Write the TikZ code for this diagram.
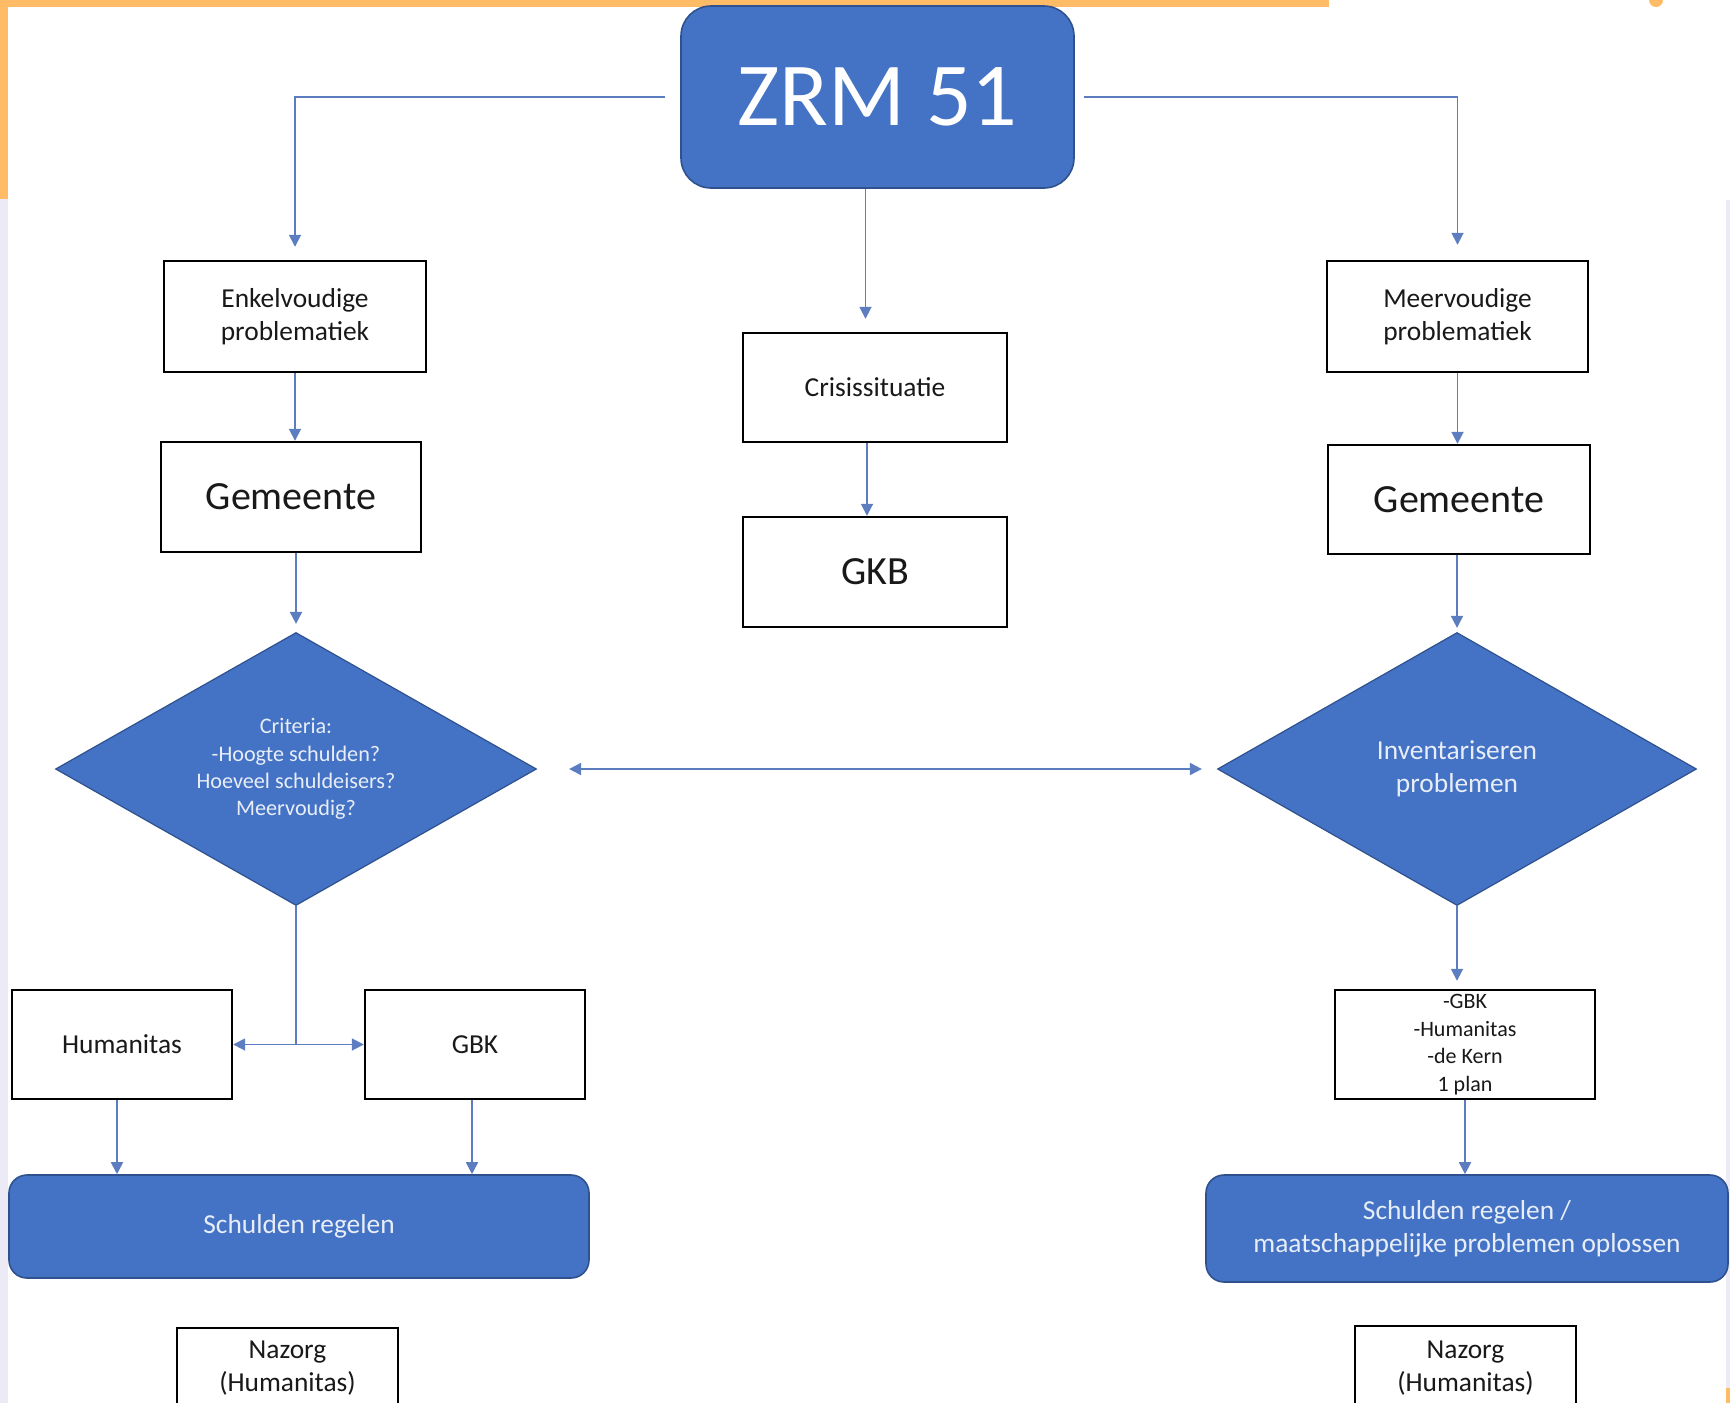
\documentclass[tikz,border=0pt]{standalone}
\usepackage{fontspec}
\setmainfont{Carlito}
\usetikzlibrary{shapes.geometric,arrows.meta}

\definecolor{zblue}{RGB}{68,114,196}
\definecolor{zedge}{RGB}{47,82,143}
\definecolor{zline}{RGB}{92,126,192}
\definecolor{zorange}{RGB}{255,187,102}
\definecolor{zlav}{RGB}{236,235,245}
\definecolor{ztext}{RGB}{232,238,248}

\tikzset{
  zarrow/.tip={Triangle[width=6pt,length=6pt]},
  whitebox/.style={draw=black, line width=1.2pt, fill=white, text=black!90, align=center, inner sep=2pt, font=\fontsize{13.7}{16.5}\selectfont},
  bigbox/.style={whitebox, font=\fontsize{20}{24}\selectfont},
  bluebox/.style={draw=zedge, line width=0.8pt, fill=zblue, text=ztext, align=center, rounded corners=9pt, font=\fontsize{13.7}{16.5}\selectfont},
  choice/.style={diamond, draw=zedge, line width=0.6pt, fill=zblue, text=ztext, align=center, aspect=1.76, inner sep=1pt, minimum width=240.5pt, minimum height=136.5pt, font=\fontsize{13.7}{16.5}\selectfont},
  conn/.style={draw=zline, line width=0.9pt, -zarrow},
}

\begin{document}
\begin{tikzpicture}[x=0.5pt,y=0.5pt,yscale=-1,xscale=1]
\useasboundingbox (0,0) rectangle (1730,1403);
\clip (0,0) rectangle (1730,1403);

%Shape: Border strips
\fill[zlav] (0,199) rectangle (8,1403);
\fill[zlav] (1726,200) rectangle (1730,1403);
\fill[zorange] (0,0) rectangle (1329,7);
\fill[zorange] (0,0) rectangle (8,199);
\fill[zorange] (1656,0) circle (7);
\fill[zorange] (1726,1388) rectangle (1730,1403);

%Shape: Rounded Rect
\node[bluebox, rounded corners=15pt, text=white, minimum width=196.5pt, minimum height=91pt, font=\fontsize{45}{50}\selectfont] (zrm) at (877.5,97) {ZRM 51};

%Shape: Rectangle
\node[whitebox, minimum width=131pt, minimum height=55.5pt] (enkel) at (295,316.5) {Enkelvoudige\\problematiek};
\node[bigbox, minimum width=130pt, minimum height=55pt] (gemL) at (291,497) {Gemeente};
\node[whitebox, minimum width=132pt, minimum height=54.5pt] (crisis) at (875,387.5) {Crisissituatie};
\node[bigbox, minimum width=132pt, minimum height=55pt] (gkb) at (875,572) {GKB};
\node[whitebox, minimum width=130.5pt, minimum height=55.5pt] (meer) at (1457.5,316.5) {Meervoudige\\problematiek};
\node[bigbox, minimum width=131pt, minimum height=54.5pt] (gemR) at (1459,499.5) {Gemeente};

%Shape: Diamond
\node[choice, font=\fontsize{11.1}{13.6}\selectfont] (crit) at (296,769) {Criteria:\\-Hoogte schulden?\\Hoeveel schuldeisers?\\Meervoudig?};
\node[choice, minimum width=239.5pt] (inv) at (1457,769) {Inventariseren\\problemen};

%Shape: Rectangle
\node[whitebox, minimum width=110pt, minimum height=54.5pt] (human) at (122,1044.5) {Humanitas};
\node[whitebox, minimum width=110pt, minimum height=54.5pt] (gbk) at (475,1044.5) {GBK};
\node[whitebox, minimum width=130pt, minimum height=54.5pt, inner sep=0pt, font=\fontsize{11}{13.8}\selectfont] (list) at (1465,1044.5) {-GBK\\-Humanitas\\-de Kern\\1 plan};

%Shape: Rounded Rect
\node[bluebox, minimum width=290pt, minimum height=51.5pt] (schL) at (299,1226.5) {Schulden regelen};
\node[bluebox, minimum width=261pt, minimum height=53.5pt] (schR) at (1467,1228.5) {Schulden regelen /\\maatschappelijke problemen oplossen};

%Shape: Rectangle
\node[whitebox, minimum width=110.5pt, minimum height=40pt] (nazL) at (287.5,1368) {Nazorg\\(Humanitas)};
\node[whitebox, minimum width=110.5pt, minimum height=42pt] (nazR) at (1465.5,1368) {Nazorg\\(Humanitas)};

%Straight Lines
\draw[conn, shorten <=7.5pt, shorten >=6.5pt] (zrm.west) -| (enkel.north);
\draw[conn, shorten <=4.5pt, shorten >=7.5pt] (zrm.east) -| (meer.north);
\draw[conn, shorten >=6.5pt] ([xshift=-6pt]zrm.south) -- ([xshift=-6pt]zrm.south |- crisis.north);
\draw[conn] ([xshift=-4pt]crisis.south) -- ([xshift=-4pt]gkb.north);

\draw[conn] (enkel.south) -- (enkel.south |- gemL.north);
\draw[conn, shorten >=4pt] (gemL.south -| crit.north) -- (crit.north);
\draw[conn] (meer.south) -- (meer.south |- gemR.north);
\draw[conn, shorten >=2pt] (gemR.south -| inv.north) -- (inv.north);

\draw[conn, zarrow-zarrow, shorten <=16pt, shorten >=7.5pt] (crit.east) -- (inv.west);

\coordinate (split) at (crit.south |- human.east);
\draw[draw=zline, line width=0.9pt] (crit.south) -- (split);
\draw[conn, zarrow-zarrow] (human.east) -- (gbk.west);
\draw[conn] ([xshift=-2.5pt]human.south) -- ([xshift=-2.5pt]human.south |- schL.north);
\draw[conn] ([xshift=-1.5pt]gbk.south) -- ([xshift=-1.5pt]gbk.south |- schL.north);

\draw[conn, shorten >=4pt] (inv.south) -- (inv.south |- list.north);
\draw[conn] (list.south) -- (list.south |- schR.north);

\end{tikzpicture}
\end{document}
